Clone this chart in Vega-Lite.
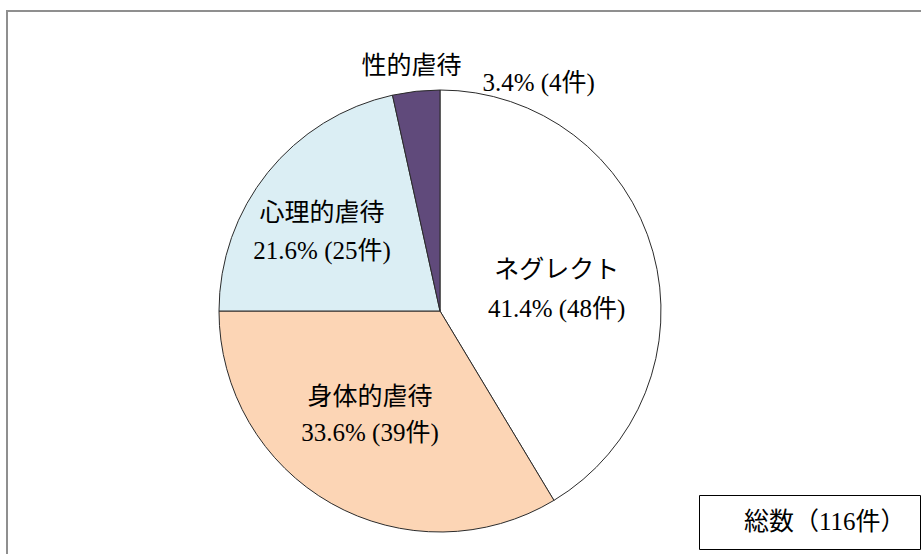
{
  "$schema": "https://vega.github.io/schema/vega-lite/v6.json",
  "autosize": {"type": "none"},
  "padding": {"left": 7, "top": 11, "right": 0, "bottom": 0},
  "width": 923,
  "height": 548,
  "background": "#ffffff",
  "view": {"stroke": "#8f8f8f", "strokeWidth": 2},
  "config": {
    "text": {"font": "Liberation Serif, Noto Sans CJK JP"}
  },
  "data": {
    "values": [
      {"category": "ネグレクト", "count": 48, "pct_text": "41.4% (48件)", "order": 1},
      {"category": "身体的虐待", "count": 39, "pct_text": "33.6% (39件)", "order": 2},
      {"category": "心理的虐待", "count": 25, "pct_text": "21.6% (25件)", "order": 3},
      {"category": "性的虐待", "count": 4, "pct_text": "3.4% (4件)", "order": 4}
    ]
  },
  "transform": [
    {"stack": "count", "groupby": [], "sort": [{"field": "order", "order": "ascending"}], "as": ["s0", "s1"]},
    {"calculate": "(datum.s0 + datum.s1) / 2", "as": "mid"},
    {"calculate": "datum.category + '\\n' + datum.pct_text", "as": "label"}
  ],
  "layer": [
    {
      "mark": {"type": "arc", "x": 433, "y": 300, "outerRadius": 221, "stroke": "#2b2b2b", "strokeWidth": 1},
      "encoding": {
        "theta": {"field": "s0", "type": "quantitative", "stack": null, "scale": {"domain": [0, 116], "range": [0, 6.283185307179586], "nice": false, "zero": true}},
        "theta2": {"field": "s1"},
        "color": {
          "field": "category",
          "type": "nominal",
          "scale": {
            "domain": ["ネグレクト", "身体的虐待", "心理的虐待", "性的虐待"],
            "range": ["#FFFFFF", "#FCD5B5", "#DBEEF4", "#604A7B"]
          },
          "legend": null
        }
      }
    },
    {
      "transform": [{"filter": "datum.category === 'ネグレクト'"}],
      "mark": {"type": "text", "x": 433, "y": 300, "radius": 118, "dx": 3, "dy": -9, "fontSize": 25, "lineHeight": 39, "lineBreak": "\n", "align": "center", "baseline": "middle", "color": "#000000"},
      "encoding": {
        "theta": {"field": "mid", "type": "quantitative", "stack": null},
        "text": {"field": "label"}
      }
    },
    {
      "transform": [{"filter": "datum.category === '身体的虐待'"}],
      "mark": {"type": "text", "x": 433, "y": 300, "radius": 124, "dx": -9, "dy": -22, "fontSize": 25, "lineHeight": 36, "lineBreak": "\n", "align": "center", "baseline": "middle", "color": "#000000"},
      "encoding": {
        "theta": {"field": "mid", "type": "quantitative", "stack": null},
        "text": {"field": "label"}
      }
    },
    {
      "transform": [{"filter": "datum.category === '心理的虐待'"}],
      "mark": {"type": "text", "x": 433, "y": 300, "radius": 141, "dx": -8, "dy": -10, "fontSize": 25, "lineHeight": 38, "lineBreak": "\n", "align": "center", "baseline": "middle", "color": "#000000"},
      "encoding": {
        "theta": {"field": "mid", "type": "quantitative", "stack": null},
        "text": {"field": "label"}
      }
    },
    {
      "transform": [{"filter": "datum.category === '性的虐待'"}],
      "mark": {"type": "text", "x": 433, "y": 300, "radius": 246, "dx": -2, "dy": 0, "fontSize": 25, "align": "center", "baseline": "middle", "color": "#000000"},
      "encoding": {
        "theta": {"field": "mid", "type": "quantitative", "stack": null},
        "text": {"field": "category"}
      }
    },
    {
      "transform": [{"filter": "datum.category === '性的虐待'"}],
      "mark": {"type": "text", "x": 433, "y": 300, "radius": 216, "dx": 122, "dy": -13, "fontSize": 25, "align": "center", "baseline": "middle", "color": "#000000"},
      "encoding": {
        "theta": {"field": "mid", "type": "quantitative", "stack": null},
        "text": {"field": "pct_text"}
      }
    },
    {
      "transform": [{"aggregate": [{"op": "sum", "field": "count", "as": "total"}]}],
      "mark": {"type": "rect", "fill": null, "fillOpacity": 0, "stroke": "#8f8f8f", "strokeWidth": 2},
      "encoding": {}
    },
    {
      "transform": [
        {"aggregate": [{"op": "sum", "field": "count", "as": "total"}]},
        {"calculate": "'総数（' + datum.total + '件）'", "as": "total_label"}
      ],
      "mark": {"type": "point", "opacity": 0},
      "encoding": {
        "shape": {
          "field": "total_label",
          "type": "nominal",
          "legend": {
            "title": null,
            "orient": "bottom-right",
            "offset": 10,
            "padding": 14,
            "strokeColor": "#000000",
            "fillColor": "#ffffff",
            "symbolSize": 49,
            "symbolOpacity": 0,
            "symbolStrokeWidth": 0,
            "symbolFillColor": "transparent",
            "symbolStrokeColor": "transparent",
            "labelOffset": 6,
            "labelFont": "Liberation Serif, Noto Sans CJK JP",
            "labelFontSize": 25,
            "labelColor": "#000000",
            "labelLimit": 400
          }
        }
      }
    }
  ]
}
